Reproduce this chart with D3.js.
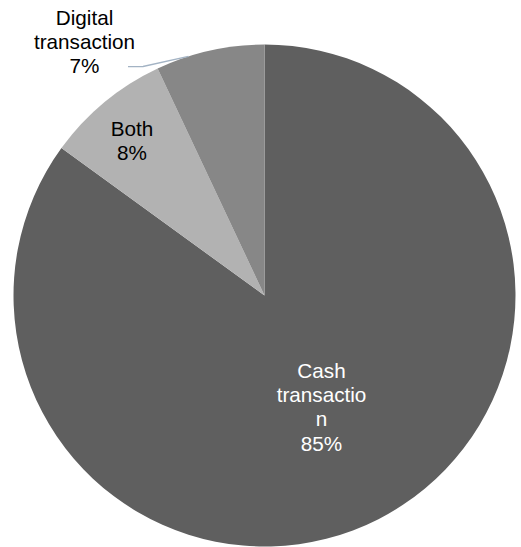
<!DOCTYPE html>
<html>
<head>
<meta charset="utf-8">
<script src="https://cdn.jsdelivr.net/npm/d3@7/dist/d3.min.js"></script>
<style>
  html, body { margin: 0; padding: 0; background: #fff; }
  svg { display: block; }
</style>
</head>
<body>
<svg id="chart" width="521" height="547"></svg>
<script>
// Payment mode shares
const categories = ["Cash transaction", "Both", "Digital transaction"];
const values = [85, 8, 7];
const colors = ["#5f5f5f", "#b2b2b2", "#878787"];
// Label lines as wrapped in the chart
const labelLines = [
  ["Cash", "transactio", "n", "85%"],
  ["Both", "8%"],
  ["Digital", "transaction", "7%"]
];
const labelColors = ["#ffffff", "#000000", "#000000"];

const svg = d3.select("#chart");
const cx = 264.5, cy = 295.5, r = 251;
const g = svg.append("g").attr("transform", `translate(${cx},${cy})`);

const pie = d3.pie().sort(null).value(d => d);
const arcs = pie(values);
const arc = d3.arc().innerRadius(0).outerRadius(r);

g.selectAll("path.slice")
  .data(arcs)
  .join("path")
  .attr("class", "slice")
  .attr("d", arc)
  .attr("fill", (d, i) => colors[i]);

// Label anchor positions (first baseline, relative to center) and line spacing
const lh = 24.2;
const labelPos = [
  [57, 82.5],
  [-132.5, -159.5],
  [-180, -270.5]
];

labelLines.forEach((lines, i) => {
  const t = g.append("text")
    .attr("text-anchor", "middle")
    .attr("font-family", "Liberation Sans, Arial, sans-serif")
    .attr("font-size", 20.7)
    .attr("fill", labelColors[i]);
  lines.forEach((s, k) => {
    t.append("tspan")
      .attr("x", labelPos[i][0])
      .attr("y", labelPos[i][1] + k * lh)
      .text(s);
  });
});

// Leader line from the outside label to the small slice
const a = arcs[2];
const edgeAngle = a.startAngle + (a.endAngle - a.startAngle) * 0.3;
const ex = Math.sin(edgeAngle) * r, ey = -Math.cos(edgeAngle) * r;
g.append("path")
  .attr("d", `M${-136.5},${-228.8} L${-121.5},${-229} L${ex},${ey}`)
  .attr("fill", "none")
  .attr("stroke", "#a3b3c4")
  .attr("stroke-width", 1.3);
</script>
</body>
</html>
